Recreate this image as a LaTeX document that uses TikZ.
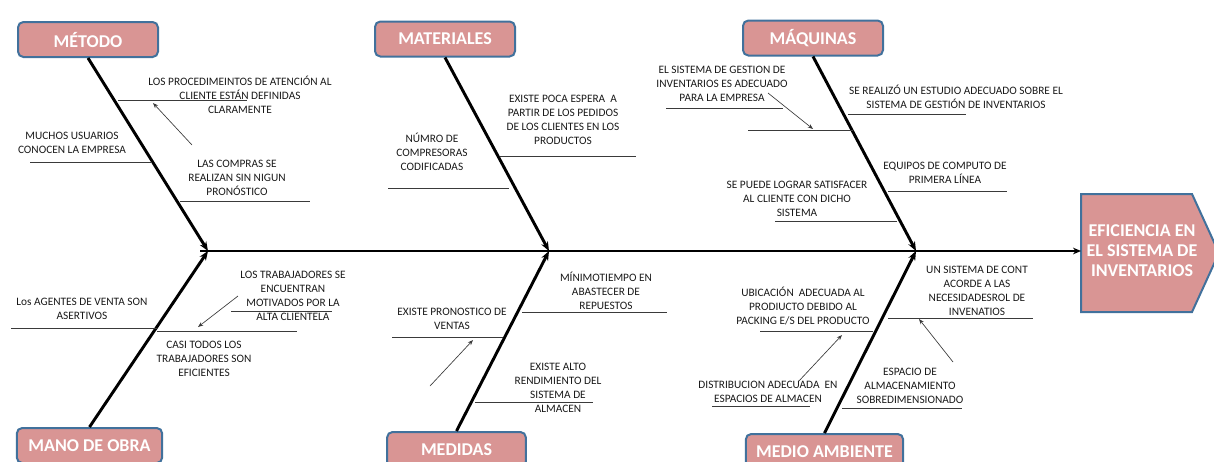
\documentclass[tikz,border=0pt]{standalone}
\usepackage{fontspec}
\setmainfont{Carlito}
\usetikzlibrary{arrows.meta}
\definecolor{boxfill}{HTML}{D99594}
\definecolor{boxedge}{HTML}{41719C}
\definecolor{twig}{HTML}{3A3A3A}

\begin{document}
\begin{tikzpicture}[x=0.75pt,y=-0.75pt,
  cat/.style={draw=boxedge, line width=1.5pt, fill=boxfill, rounded corners=4pt,
    minimum height=26.25pt, text=white, inner sep=0pt,
    font=\fontsize{13.5}{15}\selectfont\bfseries},
  cause/.style={font=\fontsize{8.5}{10.5}\selectfont, align=center, inner sep=0pt, text=black!90},
  bone/.style={line width=2.2pt, -{Stealth[length=7pt,width=5.5pt]}},
  twigline/.style={draw=twig, line width=0.6pt},
  hint/.style={draw=twig, line width=0.5pt, -{Stealth[length=4pt,width=3pt]}},
]
\clip (0,0) rectangle (1214,461);

% effect head (arrow-shaped box, tip beyond the right edge)
\draw[draw=boxedge, line width=1.5pt, fill=boxfill]
  (1081,194) -- (1192,194) -- (1219,253) -- (1192,312) -- (1081,312) -- cycle;
\node[text=white, align=center, inner sep=0pt, font=\fontsize{13.5}{15}\selectfont\bfseries]
  (effect) at (1142,251) {EFICIENCIA EN\\EL SISTEMA DE\\INVENTARIOS};
\coordinate (headwest) at (1081,251);

% category boxes
\node[cat, minimum width=105pt] (metodo) at (88,39.5) {MÉTODO};
\node[cat, minimum width=105pt] (materiales) at (445,39) {MATERIALES};
\node[cat, minimum width=105pt] (maquinas) at (813,38) {MÁQUINAS};
\node[cat, minimum width=109pt] (manoobra) at (89.5,445.5) {MANO DE OBRA};
\node[cat, minimum width=104pt] (medidas) at (456.5,449.5) {MEDIDAS};
\node[cat, minimum width=118pt] (medioamb) at (824.5,451.5) {MEDIO AMBIENTE};

% spine
\coordinate (tail) at (200,251);
\coordinate (j1) at (208,251);
\coordinate (j2) at (549,251);
\coordinate (j3) at (916,251);
\draw[line width=2.2pt, -{Stealth[length=6pt,width=5pt]}] (tail) -- (headwest);

% main bones
\draw[bone] (metodo.south) -- (j1);
\draw[bone] (manoobra.north) -- (j1);
\draw[bone] (materiales.south) -- (j2);
\draw[bone] (medidas.north) -- (j2);
\draw[bone] (maquinas.south) -- (j3);
\draw[bone] (medioamb.north) -- (j3);

% ---- MÉTODO causes
\node[cause] (m1) at (240,95) {LOS PROCEDIMEINTOS DE ATENCIÓN AL\\CLIENTE ESTÁN DEFINIDAS\\CLARAMENTE};
\draw[twigline] (118,100) -- (247,100);
\draw[hint] (192,145) -- (153,103);
\node[cause] (m2) at (72,142.5) {MUCHOS USUARIOS\\CONOCEN LA EMPRESA};
\draw[twigline] (30,162) -- (152,162);
\node[cause] (m3) at (237,178) {LAS COMPRAS SE\\REALIZAN SIN NIGUN\\PRONÓSTICO};
\draw[twigline] (180,201) -- (310,201);

% ---- MATERIALES causes
\node[cause] (a1) at (563,120) {EXISTE POCA ESPERA~ A\\PARTIR DE LOS PEDIDOS\\DE LOS CLIENTES EN LOS\\PRODUCTOS};
\draw[twigline] (500,156) -- (636,156);
\node[cause] (a2) at (432,152) {NÚMRO DE\\COMPRESORAS\\CODIFICADAS};
\draw[twigline] (388,188) -- (509,188);

% ---- MÁQUINAS causes
\node[cause] (q1) at (722,83.5) {EL SISTEMA DE GESTION DE\\INVENTARIOS ES ADECUADO\\PARA LA EMPRESA};
\draw[twigline] (666,108) -- (783,108);
\draw[hint] (768,93) -- (813,129);
\draw[twigline] (748,130) -- (853,130);
\node[cause] (q2) at (956,97) {SE REALIZÓ UN ESTUDIO ADECUADO SOBRE EL\\SISTEMA DE GESTIÓN DE INVENTARIOS};
\draw[twigline] (848,114) -- (966,114);
\node[cause] (q3) at (945,172.5) {EQUIPOS DE COMPUTO DE\\PRIMERA LÍNEA};
\draw[twigline] (888,191) -- (1007,191);
\node[cause] (q4) at (797,199) {SE PUEDE LOGRAR SATISFACER\\AL CLIENTE CON DICHO\\SISTEMA};
\draw[twigline] (775,221) -- (897,221);

% ---- MANO DE OBRA causes
\node[cause] (o1) at (82,309) {Los AGENTES DE VENTA SON\\ASERTIVOS};
\draw[twigline] (11,328) -- (157,328);
\node[cause] (o2) at (204,359) {CASI TODOS LOS\\TRABAJADORES SON\\EFICIENTES};
\draw[twigline] (157,331) -- (297,331);
\node[cause] (o3) at (293,296) {LOS TRABAJADORES SE\\ENCUENTRAN\\MOTIVADOS POR LA\\ALTA CLIENTELA};
\draw[twigline] (231,311) -- (332,311);
\draw[hint] (238,296) -- (198,327);

% ---- MEDIDAS causes
\node[cause] (d1) at (452,319) {EXISTE PRONOSTICO DE\\VENTAS};
\draw[twigline] (392,337) -- (503,337);
\draw[hint] (430,386) -- (473,340);
\node[cause] (d2) at (606,291) {MÍNIMOTIEMPO EN\\ABASTECER DE\\REPUESTOS};
\draw[twigline] (522,312) -- (667,312);
\node[cause] (d3) at (558,387.5) {EXISTE ALTO\\RENDIMIENTO DEL\\SISTEMA DE\\ALMACEN};
\draw[twigline] (475,402) -- (593,402);

% ---- MEDIO AMBIENTE causes
\node[cause] (e1) at (803,306) {UBICACIÓN~ ADECUADA AL\\PRODIUCTO DEBIDO AL\\PACKING E/S DEL PRODUCTO};
\draw[twigline] (760,331) -- (873,331);
\node[cause] (e2) at (977,291) {UN SISTEMA DE CONT\\ACORDE A LAS\\NECESIDADESROL DE\\INVENATIOS};
\draw[twigline] (888,318) -- (1033,318);
\draw[hint] (953,362) -- (919,319);
\draw[hint] (798,382) -- (842,335);
\node[cause] (e3) at (768,392) {DISTRIBUCION ADECUADA~ EN\\ESPACIOS DE ALMACEN};
\draw[twigline] (712,406) -- (810,406);
\node[cause] (e4) at (910,386) {ESPACIO DE\\ALMACENAMIENTO\\SOBREDIMENSIONADO};
\draw[twigline] (842,408) -- (962,408);
\end{tikzpicture}
\end{document}
